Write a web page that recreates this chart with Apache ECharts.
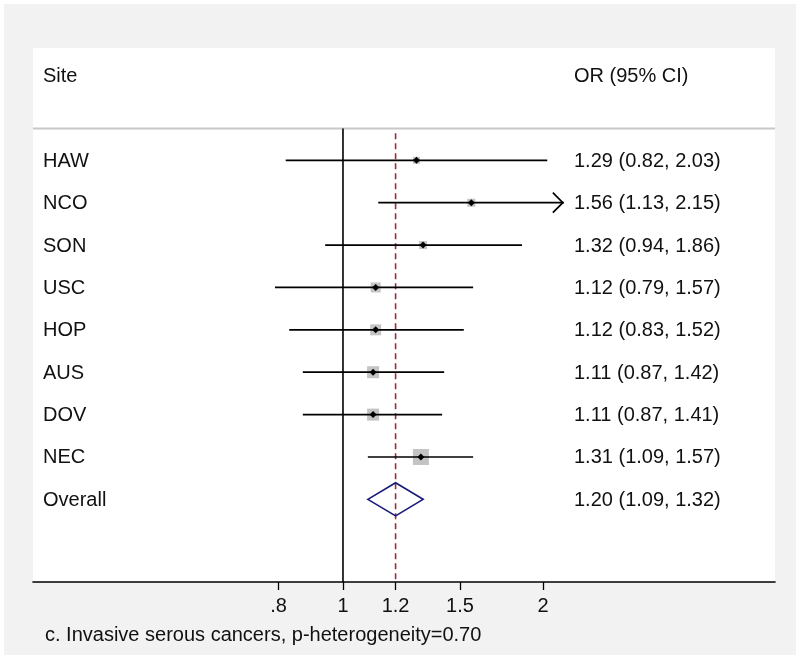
<!DOCTYPE html>
<html>
<head>
<meta charset="utf-8">
<script src="https://cdn.jsdelivr.net/npm/echarts@6/dist/echarts.min.js"></script>
<style>
html,body{margin:0;padding:0;background:#fff;}
#main{width:800px;height:659px;}
</style>
</head>
<body>
<div id="main"></div>
<script>
// ---- data ----
const sites   = ['HAW', 'NCO', 'SON', 'USC', 'HOP', 'AUS', 'DOV', 'NEC'];
const orVals  = [1.29, 1.56, 1.32, 1.12, 1.12, 1.11, 1.11, 1.31];
const ciLow   = [0.82, 1.13, 0.94, 0.79, 0.83, 0.87, 0.87, 1.09];
const ciHigh  = [2.03, 2.15, 1.86, 1.57, 1.52, 1.42, 1.41, 1.57];
const weights = [5.2, 6.8, 6.8, 10.6, 12.8, 15.3, 15.3, 27.2];
const overallLabel = 'Overall';
const overallVals  = [1.20, 1.09, 1.32]; // OR, lower, upper
const nullValue = 1;
const tickValues = [0.8, 1, 1.2, 1.5, 2];
const tickLabels = ['.8', '1', '1.2', '1.5', '2'];
const headers = ['Site', 'OR (95% CI)'];
const caption = 'c. Invasive serous cancers, p-heterogeneity=0.70';
const ciClip = 2.1;

// ---- helpers ----
const FONT = '"Liberation Sans", Arial, Helvetica, sans-serif';
const TXT = '#111';
const fmt = (a, b, c) => a.toFixed(2) + ' (' + b.toFixed(2) + ', ' + c.toFixed(2) + ')';
const nRows = sites.length;
const overallRow = nRows;
const headerRow = -2;
const headerLineRow = -0.75;
const yMin = -2.65, yMax = 9.95;

const studyData = sites.map((s, i) => [i, orVals[i], ciLow[i], ciHigh[i], weights[i]]);
const textData = sites.map((s, i) => [i, orVals[i], s, fmt(orVals[i], ciLow[i], ciHigh[i])]);
textData.push([overallRow, overallVals[0], overallLabel, fmt(overallVals[0], overallVals[1], overallVals[2])]);
textData.push([headerRow, 1, headers[0], headers[1]]);

const chart = echarts.init(document.getElementById('main'), null, {renderer: 'canvas'});
const maxW = Math.max.apply(null, weights);

const option = {
  animation: false,
  backgroundColor: '#fff',
  graphic: [
    {type: 'rect', z: -10, silent: true, shape: {x: 4, y: 4, width: 792, height: 651}, style: {fill: '#f2f2f2'}},
    {type: 'text', left: 45, top: 625, style: {text: caption, font: '20px ' + FONT, fill: TXT}}
  ],
  grid: {left: 33, right: 25, top: 48, bottom: 77, show: true, backgroundColor: '#fff', borderWidth: 0},
  xAxis: {
    type: 'log', logBase: 10, min: 0.34153, max: 4.4694,
    axisLine: {show: true, onZero: false, lineStyle: {color: '#000', width: 1.6}},
    axisTick: {show: true, customValues: tickValues, length: 8, lineStyle: {color: '#000', width: 1.3}},
    axisLabel: {
      customValues: tickValues, color: TXT, fontSize: 20, fontFamily: FONT, margin: 14,
      formatter: v => { let k = tickValues.findIndex(t => Math.abs(t - v) < 1e-6); return k >= 0 ? tickLabels[k] : ''; }
    },
    splitLine: {show: false}, minorTick: {show: false}
  },
  yAxis: {type: 'value', inverse: true, min: yMin, max: yMax, show: false, splitLine: {show: false}},
  series: [
    { // header line + reference lines
      type: 'custom', silent: true, z: 2,
      data: [[nullValue, headerLineRow, 0], [overallVals[0], -0.64, 1]],
      encode: {x: 0, y: 1},
      renderItem: (params, api) => {
        const cs = params.coordSys;
        const top = api.coord([api.value(0), api.value(1)]);
        const bot = api.coord([api.value(0), yMax]);
        const kids = [];
        if (api.value(2) === 0) {
          kids.push({type: 'line', shape: {x1: cs.x, y1: top[1], x2: cs.x + cs.width, y2: top[1]}, style: {stroke: '#c8c8c8', lineWidth: 2}});
          kids.push({type: 'line', shape: {x1: top[0], y1: top[1], x2: bot[0], y2: bot[1]}, style: {stroke: '#000', lineWidth: 1.6}});
        } else {
          kids.push({type: 'line', shape: {x1: top[0], y1: top[1], x2: bot[0], y2: bot[1]}, style: {stroke: '#9e2a3c', lineWidth: 1.6, lineDash: [6, 4]}});
        }
        return {type: 'group', children: kids};
      }
    },
    { // studies
      type: 'custom', silent: true, z: 3,
      data: studyData,
      encode: {x: [1, 2, 3], y: 0},
      renderItem: (params, api) => {
        const row = api.value(0);
        const p = api.coord([api.value(1), row]);
        const pl = api.coord([api.value(2), row]);
        const ph = api.coord([api.value(3), row]);
        const s = 16 * Math.sqrt(api.value(4) / maxW);
        const kids = [
          {type: 'rect', shape: {x: p[0] - s / 2, y: p[1] - s / 2, width: s, height: s}, style: {fill: '#c4c4c4'}},
          {type: 'line', shape: {x1: pl[0], y1: pl[1], x2: ph[0], y2: ph[1]}, style: {stroke: '#000', lineWidth: 1.7}},
          {type: 'polygon', shape: {points: [[p[0] - 3.5, p[1]], [p[0], p[1] - 3.5], [p[0] + 3.5, p[1]], [p[0], p[1] + 3.5]]}, style: {fill: '#000'}}
        ];
        if (api.value(3) > ciClip) {
          kids.push({type: 'polyline', shape: {points: [[ph[0] - 11, ph[1] - 10], [ph[0] - 1, ph[1]], [ph[0] - 11, ph[1] + 10]]}, style: {stroke: '#000', lineWidth: 1.7, fill: null}});
        }
        return {type: 'group', children: kids};
      }
    },
    { // overall diamond
      type: 'custom', silent: true, z: 3,
      data: [[overallRow, overallVals[0], overallVals[1], overallVals[2]]],
      encode: {x: [1, 2, 3], y: 0},
      renderItem: (params, api) => {
        const row = api.value(0);
        const p = api.coord([api.value(1), row]);
        const pl = api.coord([api.value(2), row]);
        const ph = api.coord([api.value(3), row]);
        const h = 16.5;
        return {type: 'polygon', shape: {points: [[pl[0], p[1]], [p[0], p[1] - h], [ph[0], p[1]], [p[0], p[1] + h]]},
                style: {stroke: '#1a1a7a', lineWidth: 1.7, fill: null}};
      }
    },
    { // text columns
      type: 'custom', silent: true, z: 4,
      data: textData,
      encode: {x: 1, y: 0},
      renderItem: (params, api) => {
        const i = params.dataIndex;
        const d = textData[i];
        const y = api.coord([1, d[0]])[1];
        return {type: 'group', children: [
          {type: 'text', style: {x: 43, y: y + 1, text: d[2], font: '20px ' + FONT, fill: TXT, verticalAlign: 'middle', align: 'left'}},
          {type: 'text', style: {x: 574, y: y + 1, text: d[3], font: '20px ' + FONT, fill: TXT, verticalAlign: 'middle', align: 'left'}}
        ]};
      }
    }
  ]
};
chart.setOption(option);
</script>
</body>
</html>
